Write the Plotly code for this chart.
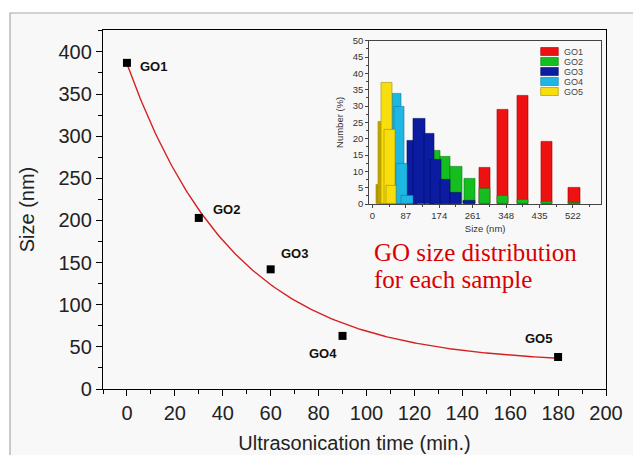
import math
import plotly.graph_objects as go

# ---------------- data ----------------
sample_names = ["GO1", "GO2", "GO3", "GO4", "GO5"]
sonication_time = [0, 30, 60, 90, 180]          # min
mean_size = [387, 203, 142, 63, 38]             # nm

# exponential decay fit  y = y0 + A*exp(-t/tau)
fit_y0, fit_A, fit_tau = 30.0, 356.0, 45.0
fit_t_start, fit_t_end = 0, 180

# inset histograms: bin low / bin high (nm) and number (%)
go1_lo = [277, 324, 377, 440, 511]
go1_hi = [307, 354, 407, 468, 540]
go1_n = [11.2, 28.8, 33.2, 19.1, 5.1]

go2_lo = [147, 176, 204, 239, 277, 324, 377, 440, 511]
go2_hi = [176, 204, 234, 267, 306, 354, 407, 468, 540]
go2_n = [16.4, 14.6, 11.3, 7.6, 4.6, 2.6, 1.4, 0.8, 0.4]

go3_lo = [92, 106, 135, 150, 176, 202, 237]
go3_hi = [116, 137, 162, 180, 202, 232, 267]
go3_n = [19.3, 26.1, 21.5, 13.7, 7.5, 3.4, 1.0]

go4_lo = [52, 56, 62, 75]
go4_hi = [74, 82, 92, 106]
go4_n = [33.9, 29.7, 12.3, 2.5]

go5_lo = [11, 15, 24, 30, 37]
go5_hi = [41, 45, 53, 59, 63]
go5_n = [5.8, 25.3, 37.0, 22.9, 5.6]

inset_ticks = [0, 87, 174, 261, 348, 435, 522]

# ---------------- layout geometry ----------------
OFF = 8                      # page body margin of the html page
W, H = 641 - OFF, 455 - OFF
PLOT_L, PLOT_R, PLOT_T, PLOT_B = 103, 606, 30, 389   # reference pixels
ML, MR = PLOT_L - OFF, W - (PLOT_R - OFF)
MT, MB = PLOT_T - OFF, H - (PLOT_B - OFF)
PW, PH = PLOT_R - PLOT_L, PLOT_B - PLOT_T


def px_x(p):
    return (p - PLOT_L) / PW


def px_y(p):
    return (PLOT_B - p) / PH


fig = go.Figure()

# fit curve
n_fit = 200
fit_t = [fit_t_start + (fit_t_end - fit_t_start) * i / (n_fit - 1) for i in range(n_fit)]
fit_vals = [fit_y0 + fit_A * math.exp(-t / fit_tau) for t in fit_t]
fig.add_trace(go.Scatter(x=fit_t, y=fit_vals, mode="lines",
                         line=dict(color="#D62020", width=1.4),
                         hoverinfo="skip", showlegend=False))

fig.add_trace(go.Scatter(x=sonication_time, y=mean_size, mode="markers",
                         marker=dict(symbol="square", size=8, color="black"),
                         showlegend=False))

# inset bars
series = [
    ("GO1", go1_lo, go1_hi, go1_n, "#EE1111", "#A00000"),
    ("GO2", go2_lo, go2_hi, go2_n, "#13BE1E", "#0A7A10"),
    ("GO3", go3_lo, go3_hi, go3_n, "#0B1CA0", "#050E60"),
    ("GO4", go4_lo, go4_hi, go4_n, "#1EB6E2", "#0B7EA0"),
    ("GO5", go5_lo, go5_hi, go5_n, "#F8DE0C", "#A08A00"),
]
for name, lo, hi, n, col, edge in series:
    centers = [(a + b) / 2 for a, b in zip(lo, hi)]
    widths = [b - a for a, b in zip(lo, hi)]
    colors = [col] * len(n)
    if name == "GO5":
        colors[0] = "#B89C00"
        colors[1] = "#C4A600"
    fig.add_trace(go.Bar(x=centers, y=n, width=widths, name=name,
                         marker=dict(color=colors, line=dict(color=edge, width=0.6)),
                         opacity=1, xaxis="x2", yaxis="y2", showlegend=False))

FONT = "Liberation Sans, Arial, sans-serif"

# frame around the whole picture
shapes = [dict(type="rect", xref="paper", yref="paper",
               x0=px_x(10), x1=px_x(660), y0=px_y(470), y1=px_y(13),
               line=dict(color="#A8A8A8", width=1.2), fillcolor="#F8F8F8", layer="below")]

# inset legend
inset_top, inset_bot = 40.7, 204
inset_left, inset_right = 369.3, 601
annotations = []
for i, (name, lo, hi, n, col, edge) in enumerate(series):
    cy = 51.5 + 10 * i
    yd = (inset_bot - cy) / (inset_bot - inset_top)
    hh = 4 / (inset_bot - inset_top)
    shapes.append(dict(type="rect", xref="x2 domain", yref="y2 domain",
                       x0=(540.7 - inset_left) / (inset_right - inset_left),
                       x1=(558.3 - inset_left) / (inset_right - inset_left),
                       y0=yd - hh, y1=yd + hh,
                       fillcolor=col, line=dict(color=edge, width=0.6)))
    annotations.append(dict(xref="x2 domain", yref="y2 domain",
                            x=(561.5 - inset_left) / (inset_right - inset_left), y=yd,
                            xanchor="left", yanchor="middle", showarrow=False,
                            text=name, font=dict(family=FONT, size=9, color="#444")))

# point labels
label_shift = [(27, -4), (28, 8), (24, 16), (-20, -18), (-20, 18)]
for name, t, s, (dx, dy) in zip(sample_names, sonication_time, mean_size, label_shift):
    annotations.append(dict(x=t, y=s, xref="x", yref="y", text="<b>%s</b>" % name,
                            showarrow=False, xshift=dx, yshift=dy,
                            font=dict(family=FONT, size=13, color="#111")))

# red text
for txt, cy in [("GO size distribution", 252.5), ("for each sample", 279)]:
    annotations.append(dict(xref="paper", yref="paper", x=px_x(372), y=px_y(cy),
                            xanchor="left", yanchor="middle", showarrow=False, text=txt,
                            font=dict(family="Liberation Serif, Times New Roman, serif",
                                      size=25, color="#D80000")))

fig.update_layout(
    width=W, height=H,
    margin=dict(l=ML, r=MR, t=MT, b=MB, pad=0),
    paper_bgcolor="white", plot_bgcolor="rgba(0,0,0,0)",
    barmode="overlay", bargap=0,
    shapes=shapes, annotations=annotations,
    xaxis=dict(domain=[0, 1], range=[-10, 200], tick0=0, dtick=20,
               ticks="outside", ticklen=6, tickwidth=1.2, tickcolor="black",
               minor=dict(dtick=10, tick0=0, ticks="outside", ticklen=4, tickwidth=1.2, tickcolor="black"),
               showline=True, linecolor="black", linewidth=1.3, mirror=True,
               showgrid=False, zeroline=False, automargin=False,
               tickfont=dict(family=FONT, size=20, color="#222"),
               title=dict(text="Ultrasonication time (min.)", standoff=12,
                          font=dict(family=FONT, size=20, color="#222"))),
    yaxis=dict(domain=[0, 1], range=[0, 426], tick0=0, dtick=50,
               ticks="outside", ticklen=6, tickwidth=1.2, tickcolor="black",
               minor=dict(dtick=25, tick0=0, ticks="outside", ticklen=4, tickwidth=1.2, tickcolor="black"),
               showline=True, linecolor="black", linewidth=1.3, mirror=True,
               showgrid=False, zeroline=False, automargin=False,
               tickfont=dict(family=FONT, size=20, color="#222"),
               title=dict(text="Size (nm)", standoff=18,
                          font=dict(family=FONT, size=20, color="#222"))),
    xaxis2=dict(domain=[px_x(inset_left), px_x(inset_right)], anchor="y2",
                range=[-8, 595], tickmode="array", tickvals=inset_ticks,
                ticks="outside", ticklen=3, tickwidth=0.8, tickcolor="#444",
                minor=dict(tickvals=[43.5 + 87 * k for k in range(7)], ticks="outside",
                           ticklen=2, tickwidth=0.8, tickcolor="#444"),
                showline=True, linecolor="#444", linewidth=1, mirror=True,
                showgrid=False, zeroline=False, automargin=False,
                tickfont=dict(family=FONT, size=9.5, color="#333"),
                title=dict(text="Size (nm)", standoff=4,
                           font=dict(family=FONT, size=9.5, color="#333"))),
    yaxis2=dict(domain=[px_y(inset_bot), px_y(inset_top)], anchor="x2",
                range=[0, 50], tick0=0, dtick=5,
                ticks="outside", ticklen=3, tickwidth=0.8, tickcolor="#444",
                minor=dict(dtick=2.5, tick0=0, ticks="outside", ticklen=2, tickwidth=0.8, tickcolor="#444"),
                showline=True, linecolor="#444", linewidth=1, mirror=True,
                showgrid=False, zeroline=False, automargin=False,
                tickfont=dict(family=FONT, size=9.5, color="#333"),
                title=dict(text="Number (%)", standoff=7,
                           font=dict(family=FONT, size=9.5, color="#333"))),
)

fig.write_html("out.html")
